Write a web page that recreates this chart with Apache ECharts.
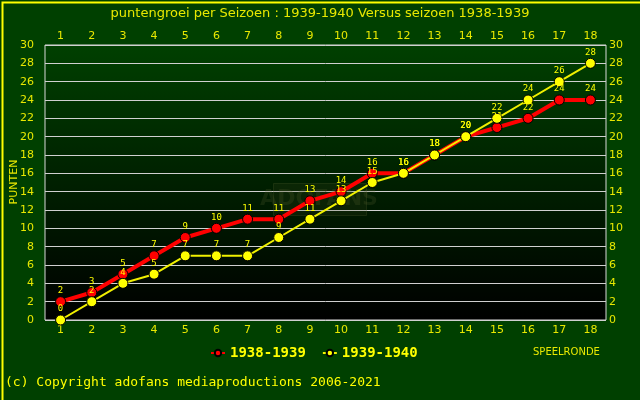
<!DOCTYPE html>
<html><head><meta charset="utf-8">
<script src="https://cdn.jsdelivr.net/npm/echarts@6/dist/echarts.min.js"></script>
<style>html,body{margin:0;padding:0;background:#004000}#c{width:640px;height:400px}</style>
</head><body><div id="c"></div>
<script>
const rounds = ['1','2','3','4','5','6','7','8','9','10','11','12','13','14','15','16','17','18'];
const s1938 = [2,3,5,7,9,10,11,11,13,14,16,16,18,20,21,22,24,24];
const s1940 = [0,2,4,5,7,7,7,9,11,13,15,16,18,20,22,24,26,28];
const chart = echarts.init(document.getElementById('c'));
const Y = '#ffff00';
const lab = (m) => ({color: '#e8e800', fontSize: 11, fontFamily: 'DejaVu Sans', margin: m});
chart.setOption({
  backgroundColor: '#004000',
  animation: false,
  title: {text: 'puntengroei per Seizoen : 1939-1940 Versus seizoen 1938-1939', left: 'center', top: 2,
    textStyle: {color: '#e8e800', fontSize: 13, fontWeight: 'normal', fontFamily: 'DejaVu Sans'}},
  grid: {left: 45, right: 34, top: 45, bottom: 80, outerBoundsMode: 'none', containLabel: false,
    show: true, borderColor: '#d8d8d8', borderWidth: 1,
    backgroundColor: new echarts.graphic.LinearGradient(0,0,0,1,[{offset:0,color:'#004000'},{offset:1,color:'#000000'}])},
  legend: {bottom: 35, left: 205, itemWidth: 14, itemHeight: 8, itemGap: 16,
    textStyle: {color: Y, fontSize: 14, fontWeight: 'bold', fontFamily: 'DejaVu Sans Mono'},
    data: ['1938-1939','1939-1940']},
  xAxis: [
    {type: 'category', data: rounds, position: 'bottom', axisLine: {show: false}, axisTick: {show: false}, axisLabel: lab(5)},
    {type: 'category', data: rounds, position: 'top', axisLine: {show: false}, axisTick: {show: false}, axisLabel: lab(3)}
  ],
  yAxis: [
    {type: 'value', min: 0, max: 30, interval: 2, position: 'left', axisLabel: lab(11),
     splitLine: {lineStyle: {color: '#d0d0d0', width: 1}}, axisLine: {show: false}, axisTick: {show: false}},
    {type: 'value', min: 0, max: 30, interval: 2, position: 'right', axisLabel: lab(3),
     splitLine: {show: false}, axisLine: {show: false}, axisTick: {show: false}}
  ],
  series: [
    {name: '1938-1939', type: 'line', data: s1938, symbol: 'circle', symbolSize: 10, z: 3,
     lineStyle: {color: '#ff0000', width: 4}, itemStyle: {color: '#ff0000', borderColor: '#000', borderWidth: 1},
     label: {show: true, position: 'top', distance: 1, color: Y, fontSize: 9, fontFamily: 'DejaVu Sans Mono'}},
    {name: '1939-1940', type: 'line', data: s1940, symbol: 'circle', symbolSize: 10, z: 3,
     lineStyle: {color: '#f0f000', width: 2}, itemStyle: {color: '#ffff00', borderColor: '#000', borderWidth: 1},
     label: {show: true, position: 'top', distance: 1, color: Y, fontSize: 9, fontFamily: 'DejaVu Sans Mono'}}
  ],
  graphic: [
    {type: 'rect', left: 0, top: 0, shape: {width: 639, height: 399}, style: {fill: 'none', stroke: '#ffff00', lineWidth: 2}},
    {type: 'rect', left: 273, top: 183, z: 1, shape: {width: 93, height: 32}, style: {fill: 'rgba(60,70,30,0.18)', stroke: 'rgba(90,100,50,0.25)', lineWidth: 1}},
    {type: 'text', x: 319, y: 199, z: 1, style: {text: 'ADOFANS', fill: 'rgba(90,100,50,0.22)', fontSize: 22, fontWeight: 'bold', fontFamily: 'DejaVu Sans', align: 'center', verticalAlign: 'middle'}},
    {type: 'text', x: 14, y: 182, rotation: Math.PI / 2, style: {text: 'PUNTEN', fill: '#e8e800', fontSize: 11, fontFamily: 'DejaVu Sans', align: 'center', verticalAlign: 'middle'}},
    {type: 'text', left: 533, top: 347, style: {text: 'SPEELRONDE', fill: '#e8e800', fontSize: 10, fontFamily: 'DejaVu Sans'}},
    {type: 'text', left: 5, top: 376, style: {text: '(c) Copyright adofans mediaproductions 2006-2021', fill: Y, fontSize: 13, fontFamily: 'DejaVu Sans Mono'}}
  ]
});
</script></body></html>
